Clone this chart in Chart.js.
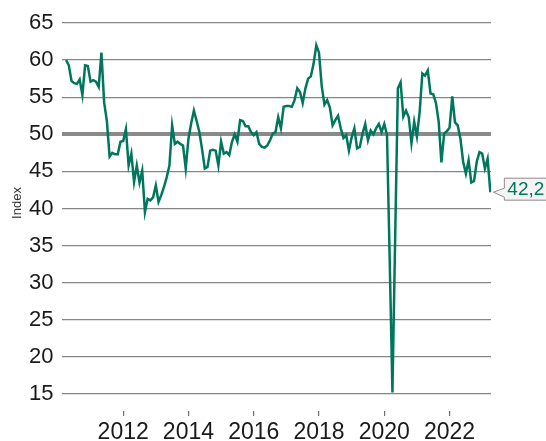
<!DOCTYPE html>
<html>
<head>
<meta charset="utf-8">
<script src="https://cdn.jsdelivr.net/npm/chart.js@4.4.1/dist/chart.umd.min.js"></script>
<style>
  html, body { margin: 0; padding: 0; background: #fff; }
  #wrap { width: 546px; height: 441px; position: relative; }
</style>
</head>
<body>
<div id="wrap"><canvas id="chart"></canvas></div>
<script>
// monthly index, first value = April 2010
const startYear = 2010, startMonth = 4;
const indexValues = [
  60.0, 59.3, 57.2, 56.9, 56.8, 57.4, 55.3, 59.3, 59.2, 57.1, 57.3, 57.1, 56.4, 61.0,
  54.3, 51.8, 47.0, 47.5, 47.3, 47.3, 49.0, 49.1, 50.7, 45.8, 47.4, 43.6, 45.8, 43.5, 45.1,
  39.5, 41.3, 41.1, 41.5, 43.1, 40.9, 41.8, 42.9, 44.2, 45.8, 51.2,
  48.7, 49.0, 48.7, 48.5, 45.4, 49.4, 51.5, 53.2, 51.8, 50.3, 48.0, 45.4, 45.6, 47.8, 47.9,
  47.8, 45.8, 49.0, 47.4, 47.6, 47.2,
  49.0, 50.0, 49.0, 51.9, 51.8, 51.1, 51.1, 50.3, 49.9, 50.3, 48.7, 48.3, 48.2, 48.5, 49.2,
  50.1, 50.3, 52.3, 50.8, 53.7, 53.8, 53.8, 53.7, 54.6, 56.2, 55.7, 54.2, 56.2, 57.5, 57.8,
  59.5, 62.0,
  61.0, 56.5, 54.0, 54.6, 53.6, 51.2, 51.9, 52.5, 50.8, 49.5, 49.9, 47.8, 49.6, 50.8, 48.1,
  48.3, 50.1, 51.4, 49.2, 50.5, 50.0, 50.8, 51.4, 50.3, 51.4, 49.9, 33.0, 15.2, 36.0, 56.2,
  57.0, 52.4, 53.2, 52.3, 48.8, 51.7, 49.7, 53.0, 58.2, 57.9, 58.6, 55.5, 55.4, 54.2, 51.7,
  46.2, 50.1, 50.4, 50.9, 55.1, 51.6, 51.2, 49.4, 46.3, 44.7, 46.5, 43.5, 43.7, 46.3, 47.6,
  47.4, 45.4, 46.7, 42.2
];
const yearTicks = [2012, 2014, 2016, 2018, 2020, 2022];
const valueTicks = [15, 20, 25, 30, 35, 40, 45, 50, 55, 60, 65];
const yTitle = 'Index';

const points = indexValues.map((v, i) => ({ x: startYear + (startMonth - 1 + i) / 12, y: v }));
const lastLabel = indexValues[indexValues.length - 1].toFixed(1).replace('.', ',');

const FONT = "'Liberation Sans', Arial, sans-serif";
const GREEN = '#00775c';

const yTitlePlugin = {
  id: 'yTitle',
  afterDraw(chart) {
    const ctx = chart.ctx;
    ctx.save();
    ctx.translate(17, 203);
    ctx.rotate(-Math.PI / 2);
    ctx.font = `13px ${FONT}`;
    ctx.fillStyle = '#333';
    ctx.textAlign = 'center';
    ctx.textBaseline = 'middle';
    ctx.fillText(yTitle, 0, 0);
    ctx.restore();
  }
};

const lastTagPlugin = {
  id: 'lastTag',
  afterDatasetsDraw(chart) {
    const meta = chart.getDatasetMeta(0);
    const pt = meta.data[meta.data.length - 1];
    if (!pt) return;
    const ctx = chart.ctx;
    const tipX = pt.x + 3, tipY = pt.y;
    const left = tipX + 11, top = tipY - 14, h = 22;
    ctx.save();
    ctx.beginPath();
    ctx.moveTo(left, top);
    ctx.lineTo(left + 60, top);
    ctx.lineTo(left + 60, top + h);
    ctx.lineTo(left, top + h);
    ctx.lineTo(left, tipY + 5);
    ctx.lineTo(tipX, tipY);
    ctx.lineTo(left, tipY - 4);
    ctx.closePath();
    ctx.fillStyle = '#f4f4f4';
    ctx.fill();
    ctx.strokeStyle = '#8c8c8c';
    ctx.lineWidth = 1;
    ctx.stroke();
    ctx.font = `19px ${FONT}`;
    ctx.fillStyle = GREEN;
    ctx.textAlign = 'left';
    ctx.textBaseline = 'middle';
    ctx.fillText(lastLabel, left + 3, top + h / 2 + 1);
    ctx.restore();
  }
};

new Chart(document.getElementById('chart'), {
  type: 'line',
  data: {
    datasets: [{
      data: points,
      borderColor: GREEN,
      borderWidth: 2.5,
      pointRadius: 0,
      tension: 0,
      fill: false
    }]
  },
  options: {
    responsive: true,
    maintainAspectRatio: false,
    animation: false,
    layout: { padding: { top: 23, right: 55, bottom: 0, left: 0 } },
    plugins: { legend: { display: false }, tooltip: { enabled: false } },
    scales: {
      x: {
        type: 'linear',
        min: 2010.11,
        max: 2023.27,
        afterBuildTicks: s => { s.ticks = yearTicks.map(v => ({ value: v })); },
        afterFit: s => { s.height = 30; },
        border: { display: false },
        grid: { drawOnChartArea: false, drawTicks: true, tickLength: 5, color: '#707070', lineWidth: 1.2 },
        ticks: { autoSkip: false, maxRotation: 0, padding: 3, color: '#1a1a1a', font: { family: FONT, size: 23 }, callback: v => String(v) }
      },
      y: {
        type: 'linear',
        min: 12.71,
        max: 65,
        afterBuildTicks: s => { s.ticks = valueTicks.map(v => ({ value: v })); },
        afterFit: s => { s.width = 61.5; },
        border: { display: false },
        grid: {
          drawTicks: false,
          color: c => c.tick && c.tick.value === 50 ? '#8a8a8a' : '#868686',
          lineWidth: c => c.tick && c.tick.value === 50 ? 4 : 1.3
        },
        ticks: { padding: 8, color: '#1a1a1a', font: { family: FONT, size: 22 } }
      }
    }
  },
  plugins: [yTitlePlugin, lastTagPlugin]
});
</script>
</body>
</html>
